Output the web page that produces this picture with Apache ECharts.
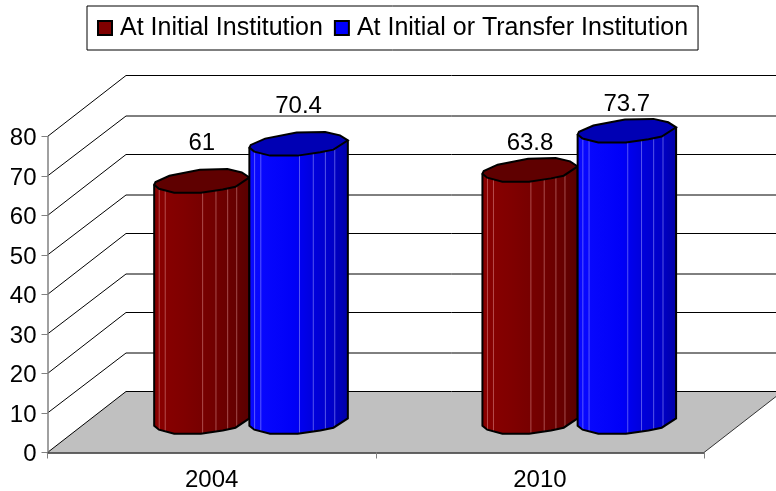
<!DOCTYPE html>
<html>
<head>
<meta charset="utf-8">
<style>
  html, body { margin: 0; padding: 0; background: #fff; }
  #chart { width: 776px; height: 491px; }
</style>
<script src="https://cdn.jsdelivr.net/npm/echarts@6/dist/echarts.min.js"></script>
</head>
<body>
<div id="chart"></div>
<script>
const categories = ['2004', '2010']
const initialValues = [61, 63.8]
const transferValues = [70.4, 73.7]
const yTicks = [0, 10, 20, 30, 40, 50, 60, 70, 80]

const FONT = '"Liberation Sans", Arial, sans-serif'
// depth of the fake 3D box, in px
const DEPTH_X = 78.5
const DEPTH_Y = 61
// cylinder outline, x as share of width, y as px above the lowest front point
const rimBack = [[0, 8], [0.014, 10.7], [0.16, 17], [0.48, 23], [0.77, 23.7], [0.92, 20.3], [1, 15.3]]
const rimFront = [[1, 15.3], [0.854, 6], [0.72, 3.3], [0.49, 0], [0.21, 0], [0.05, 4], [0, 8]]
const facetLines = [0.053, 0.116, 0.509, 0.649, 0.772, 0.867]
// the source places value labels closer to the bars in the second group
const labelGaps = [26, 15]

function rimY(t) {
  for (let i = 0; i < rimFront.length - 1; i++) {
    const a = rimFront[i]
    const b = rimFront[i + 1]
    if (t <= a[0] && t >= b[0]) return a[1] + (b[1] - a[1]) * (a[0] - t) / (a[0] - b[0])
  }
  return 0
}

function bodyGradient(stops) {
  return { type: 'linear', x: 0, y: 0, x2: 1, y2: 0, colorStops: stops }
}

const palette = [
  {
    top: '#5f0000',
    line: 'rgba(255,190,190,0.4)',
    body: bodyGradient([
      { offset: 0, color: '#8a0000' }, { offset: 0.3, color: '#800000' },
      { offset: 0.6, color: '#730000' }, { offset: 0.85, color: '#660000' }, { offset: 1, color: '#590000' }
    ])
  },
  {
    top: '#0000b4',
    line: 'rgba(170,170,255,0.5)',
    body: bodyGradient([
      { offset: 0, color: '#0a0aff' }, { offset: 0.45, color: '#0000f8' },
      { offset: 0.65, color: '#0000dc' }, { offset: 0.85, color: '#0000c8' }, { offset: 1, color: '#0000a8' }
    ])
  }
]

function renderFrame(params, api) {
  const cs = params.coordSys
  const tick = api.value(1)
  const y = api.coord([0, tick])[1]
  const x0 = cs.x
  const x1 = cs.x + cs.width
  // odd tens sit one pixel lower on the back wall in the source
  const wallY = y - DEPTH_Y + (tick % 20 ? 1 : 0)
  const children = []
  if (tick === 0) {
    children.push({
      type: 'polygon',
      shape: { points: [[x0, y], [x0 + DEPTH_X, wallY], [x1 + DEPTH_X, wallY], [x1, y]] },
      style: { fill: '#c0c0c0', stroke: null }
    })
    children.push({
      type: 'line',
      shape: { x1: x1, y1: y, x2: x1 + DEPTH_X, y2: wallY },
      style: { stroke: '#333', lineWidth: 1 }
    })
  }
  children.push({
    type: 'line',
    shape: { x1: x0, y1: y, x2: x0 + DEPTH_X, y2: wallY },
    style: { stroke: '#000', lineWidth: 1 }
  })
  children.push({
    type: 'line',
    shape: { x1: x0 + DEPTH_X, y1: wallY, x2: x1 + DEPTH_X, y2: wallY },
    style: { stroke: '#000', lineWidth: 1 }
  })
  return { type: 'group', children: children }
}

function renderCylinder(params, api) {
  const side = params.seriesIndex - 1
  const colors = palette[side]
  const center = api.coord([api.value(0), 0])
  const top = api.coord([api.value(0), api.value(1)])
  const band = api.size([1, 0])[0]
  const w = band * (side === 0 ? 0.29 : 0.3)
  const left = center[0] + DEPTH_X / 2 - 1.5 + (side === 0 ? -w : 0)
  const baseY = center[1] - 18.8
  const topY = top[1] - 18.8

  const px = t => left + t * w
  const rim = (pts, y) => pts.map(p => [px(p[0]), y - p[1]])

  const topFront = rim(rimFront, topY)
  const baseFront = rim(rimFront, baseY)
  const children = [{
    type: 'polygon',
    shape: { points: topFront.concat(baseFront.slice().reverse()) },
    style: { fill: colors.body, stroke: null }
  }]
  facetLines.forEach(t => {
    children.push({
      type: 'line',
      shape: { x1: px(t), y1: topY - rimY(t), x2: px(t), y2: baseY - rimY(t) },
      style: { stroke: colors.line, lineWidth: 1 }
    })
  })
  children.push({
    type: 'polyline',
    shape: { points: [[left, topY - 8]].concat(rim(rimFront.slice().reverse(), baseY), [[left + w, topY - 15.3]]) },
    style: { fill: null, stroke: '#000', lineWidth: 2 }
  })
  children.push({
    type: 'polygon',
    shape: { points: rim(rimBack, topY).concat(topFront) },
    style: { fill: colors.top, stroke: '#000', lineWidth: 2 }
  })
  children.push({
    type: 'text',
    style: {
      x: left + w / 2,
      y: topY - 23.7 - labelGaps[api.value(0)],
      text: String(api.value(1)),
      fill: '#000',
      font: '24px ' + FONT,
      align: 'center',
      verticalAlign: 'middle'
    }
  })
  return { type: 'group', children: children }
}

const chart = echarts.init(document.getElementById('chart'))
chart.setOption({
  animation: false,
  backgroundColor: '#fff',
  legend: {
    left: 87,
    top: 6,
    padding: [8, 10, 8, 10],
    itemGap: 11,
    itemWidth: 14,
    itemHeight: 14,
    icon: 'rect',
    borderColor: '#000',
    borderWidth: 1,
    data: ['At Initial Institution', 'At Initial or Transfer Institution'],
    textStyle: { fontFamily: FONT, fontSize: 25, color: '#000', lineHeight: 28, padding: [0, 0, 0, 3] }
  },
  grid: { left: 47.5, right: 72, top: 136.5, bottom: 38.5, outerBoundsMode: 'none' },
  xAxis: {
    type: 'category',
    data: categories,
    z: 3,
    axisLine: { lineStyle: { color: '#333', width: 1.5 } },
    axisTick: { show: true, length: 6, lineStyle: { color: '#808080' } },
    axisLabel: { color: '#000', fontFamily: FONT, fontSize: 24, margin: 16 }
  },
  yAxis: {
    type: 'value',
    min: 0,
    max: 80,
    interval: 10,
    z: 3,
    axisLine: { show: true, lineStyle: { color: '#808080', width: 1.5 } },
    axisTick: { show: true, length: 6, lineStyle: { color: '#808080' } },
    splitLine: { show: false },
    axisLabel: { color: '#000', fontFamily: FONT, fontSize: 24, margin: 11, verticalAlign: 'top', lineHeight: 4 }
  },
  series: [
    {
      type: 'custom',
      name: 'frame',
      z: 1,
      silent: true,
      renderItem: renderFrame,
      encode: { x: 0, y: 1 },
      data: yTicks.map(t => [0, t])
    },
    {
      type: 'custom',
      name: 'At Initial Institution',
      z: 4,
      itemStyle: { color: '#800000', borderColor: '#000', borderWidth: 1 },
      renderItem: renderCylinder,
      encode: { x: 0, y: 1 },
      data: initialValues.map((v, i) => [i, v])
    },
    {
      type: 'custom',
      name: 'At Initial or Transfer Institution',
      z: 5,
      itemStyle: { color: '#0000ff', borderColor: '#000', borderWidth: 1 },
      renderItem: renderCylinder,
      encode: { x: 0, y: 1 },
      data: transferValues.map((v, i) => [i, v])
    }
  ]
})
</script>
</body>
</html>
